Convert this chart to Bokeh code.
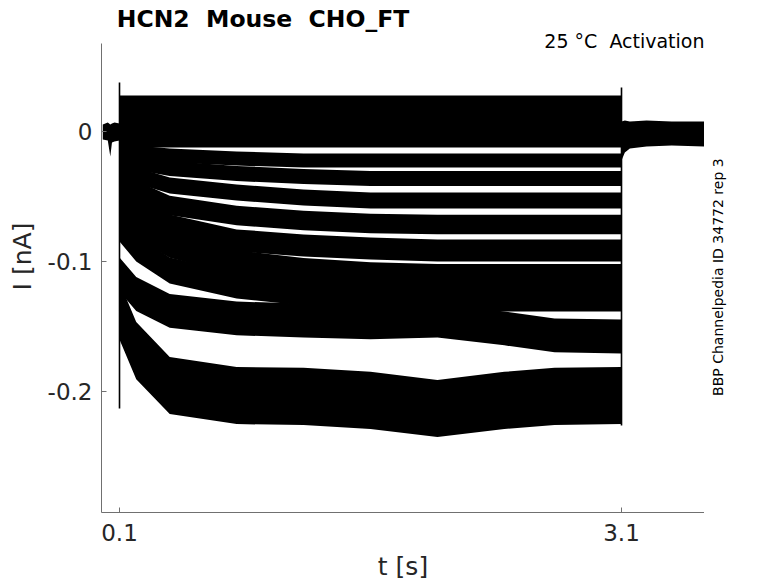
import numpy as np
from bokeh.plotting import figure
from bokeh.layouts import row
from bokeh.models import FixedTicker, Label, Range1d
from bokeh.embed import file_html
from bokeh.resources import INLINE

# ---- data (time in s, current in nA) ----
pulse_t = [0.1, 0.2, 0.4, 0.8, 1.2, 1.6, 2.0, 2.4, 2.7, 3.1]

trace_levels = [
    [0.0231] * 10,
    [0.0177] * 10,
    [0.0115] * 10,
    [0.0054] * 10,
    [-0.0008] * 10,
    [-0.0077] * 10,
    [-0.0146, -0.0162, -0.0185, -0.0208, -0.0223, -0.0223, -0.0223, -0.0223, -0.0223, -0.0223],
    [-0.0208, -0.0238, -0.0285, -0.0323, -0.0346, -0.0362, -0.0362, -0.0362, -0.0362, -0.0362],
    [-0.0285, -0.0338, -0.0415, -0.0469, -0.0508, -0.0531, -0.0531, -0.0531, -0.0531, -0.0531],
    [-0.0377, -0.0454, -0.0569, -0.0646, -0.0685, -0.0708, -0.0715, -0.0715, -0.0715, -0.0715],
    [-0.0492, -0.0592, -0.0723, -0.0838, -0.0877, -0.0900, -0.0915, -0.0915, -0.0915, -0.0915],
    [-0.0608, -0.0723, -0.0877, -0.1008, -0.1069, -0.1100, -0.1115, -0.1115, -0.1115, -0.1115],
    [-0.0746, -0.0900, -0.1069, -0.1185, -0.1238, -0.1269, -0.1285, -0.1285, -0.1285, -0.1285],
    [-0.1100, -0.1250, -0.1380, -0.1438, -0.1454, -0.1469, -0.1454, -0.1515, -0.1569, -0.1577],
    [-0.1380, -0.1685, -0.1954, -0.2031, -0.2038, -0.2069, -0.2131, -0.2069, -0.2038, -0.2031],
]
trace_noise = [0.0046, 0.0046, 0.0046, 0.0046, 0.0046, 0.0046,
               0.0054, 0.0058, 0.0062, 0.0075, 0.0085, 0.0095, 0.0100, 0.0130, 0.0220]

pre_t = [0.0, 0.03, 0.045, 0.055, 0.07, 0.1]
pre_upper = [0.0054, 0.0069, 0.0054, 0.0062, 0.0069, 0.0062]
pre_lower = [-0.0062, -0.0069, -0.0192, -0.0085, -0.0077, -0.0069]

post_t = [3.1, 3.12, 3.15, 3.25, 3.4, 3.6]
post_upper = [0.0077, 0.0085, 0.0077, 0.0085, 0.0077, 0.0077]
post_lower = [-0.0223, -0.0162, -0.0131, -0.0115, -0.0108, -0.0115]

transient_t = [0.1, 3.1]
transient_top = [0.0377, 0.0338]
transient_bottom = [-0.2131, -0.2262]

x_limits = (-0.0076, 3.596)
y_limits = (-0.2931, 0.0677)
x_ticks = [0.1, 3.1]
y_ticks = [-0.2, -0.1, 0.0]
y_tick_labels = {-0.2: "-0.2", -0.1: "-0.1", 0.0: "0"}

title_text = "HCN2 \u00a0Mouse \u00a0CHO_FT"
condition_text = "25 \u00b0C \u00a0Activation"
side_text = "BBP Channelpedia ID 34772 rep 3"

FONT = "DejaVu Sans"
TXT = "#262626"

H = 583
p = figure(width=704, height=H, output_backend="svg", toolbar_location=None,
           x_range=Range1d(*x_limits), y_range=Range1d(y_limits[0], 0.1008),
           min_border_left=101, min_border_right=0, min_border_top=0,
           min_border_bottom=71)
p.outline_line_color = None
p.xgrid.visible = False
p.ygrid.visible = False
p.background_fill_color = "white"

# traces
p.varea(x=pre_t, y1=pre_lower, y2=pre_upper, fill_color="black")
p.varea(x=post_t, y1=post_lower, y2=post_upper, fill_color="black")
for lev, nz in zip(trace_levels, trace_noise):
    lev = np.array(lev)
    p.varea(x=pulse_t, y1=lev - nz, y2=lev + nz, fill_color="black")
    p.line(x=pulse_t, y=lev, line_color="black", line_width=1)
p.segment(x0=transient_t, y0=transient_bottom, x1=transient_t, y1=transient_top,
          line_color="black", line_width=1.6)

# axes
for ax in (p.xaxis[0], p.yaxis[0]):
    ax.axis_line_color = "#707070"
    ax.axis_line_width = 1
    ax.major_tick_line_color = "#707070"
    ax.major_tick_in = 5
    ax.major_tick_out = 0
    ax.minor_tick_line_color = None
    ax.major_label_text_font = FONT
    ax.major_label_text_font_size = "23px"
    ax.major_label_text_color = TXT
    ax.axis_label_text_font = FONT
    ax.axis_label_text_font_size = "25px"
    ax.axis_label_text_font_style = "normal"
    ax.axis_label_text_color = TXT

p.xaxis.ticker = FixedTicker(ticks=x_ticks)
p.xaxis.major_label_standoff = 11
p.xaxis.axis_label = "t [s]"
p.xaxis.axis_label_standoff = 8

p.yaxis.bounds = y_limits
p.yaxis.ticker = FixedTicker(ticks=y_ticks)
p.yaxis.major_label_overrides = y_tick_labels
p.yaxis.major_label_standoff = 9
p.yaxis.axis_label = "I [nA]"
p.yaxis.axis_label_standoff = 8

p.add_layout(Label(x=0.0836, y=0.0869, text=title_text, text_align="left",
                   text_baseline="alphabetic", text_font=FONT, text_font_size="23.5px",
                   text_font_style="bold", text_color="black"))
p.add_layout(Label(x=x_limits[1], y=0.0696, text=condition_text, text_align="right",
                   text_baseline="alphabetic", text_font=FONT, text_font_size="19px",
                   text_color="black"))

# narrow side panel holding the rotated source note
side = figure(width=74, height=H, output_backend="svg", toolbar_location=None,
              x_range=Range1d(0, 74), y_range=Range1d(0, H),
              min_border_left=0, min_border_right=0, min_border_top=0, min_border_bottom=0)
side.axis.visible = False
side.grid.visible = False
side.outline_line_color = None
side.add_layout(Label(x=13, y=268, text=side_text, angle=90, angle_units="deg",
                      text_align="center", text_baseline="middle", text_font=FONT,
                      text_font_size="14px", text_color="black"))

layout = row(p, side)
open("out.html", "w").write(file_html(layout, INLINE))
